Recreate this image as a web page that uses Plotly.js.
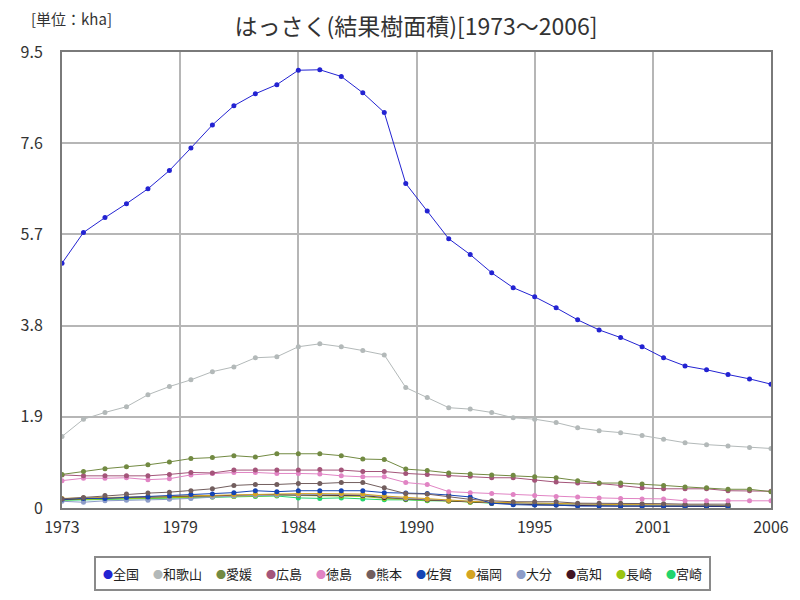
<!DOCTYPE html>
<html>
<head>
<meta charset="utf-8">
<script src="https://cdn.plot.ly/plotly-3.0.1.min.js"></script>
<style>html,body{margin:0;padding:0;background:#fff;}#chart{width:800px;height:600px;}</style>
</head>
<body>
<div id="chart"></div>
<script>
const years = [1973,1974,1975,1976,1977,1978,1979,1980,1981,1982,1983,1984,1985,1986,1987,1988,1989,1990,1991,1992,1993,1994,1995,1996,1997,1998,1999,2000,2001,2002,2003,2004,2005,2006];

const seriesNames = ['全国','和歌山','愛媛','広島','徳島','熊本','佐賀','福岡','大分','高知','長崎','宮崎'];

const zenkoku   = [5.10,5.74,6.05,6.34,6.65,7.03,7.50,7.98,8.38,8.63,8.82,9.12,9.13,8.99,8.65,8.24,6.76,6.19,5.61,5.28,4.90,4.59,4.40,4.17,3.92,3.71,3.55,3.36,3.13,2.96,2.88,2.78,2.69,2.58];
const wakayama  = [1.49,1.85,1.99,2.11,2.36,2.53,2.67,2.84,2.94,3.13,3.15,3.36,3.42,3.36,3.28,3.19,2.51,2.30,2.09,2.06,1.99,1.88,1.85,1.78,1.67,1.61,1.57,1.51,1.43,1.36,1.32,1.29,1.26,1.24];
const ehime     = [0.70,0.76,0.82,0.86,0.90,0.96,1.03,1.05,1.09,1.06,1.13,1.13,1.13,1.09,1.02,1.01,0.81,0.78,0.73,0.71,0.69,0.68,0.65,0.63,0.57,0.52,0.52,0.50,0.47,0.44,0.42,0.39,0.39,0.34];
const hiroshima = [0.69,0.67,0.67,0.67,0.67,0.70,0.74,0.73,0.79,0.79,0.79,0.79,0.80,0.79,0.76,0.76,0.72,0.70,0.68,0.66,0.63,0.63,0.58,0.54,0.52,0.51,0.47,0.42,0.40,0.40,0.40,0.36,0.36,0.35];
const tokushima = [0.57,0.62,0.62,0.63,0.59,0.61,0.69,0.72,0.74,0.74,0.72,0.72,0.71,0.67,0.65,0.65,0.53,0.49,0.34,0.32,0.30,0.28,0.26,0.24,0.23,0.21,0.20,0.19,0.19,0.15,0.15,0.15,0.15,0.15];
const kumamoto  = [0.19,0.22,0.26,0.29,0.31,0.33,0.36,0.40,0.47,0.49,0.49,0.51,0.51,0.53,0.53,0.42,0.30,0.29,0.24,0.18,0.15,0.13,0.13,0.13,0.10,0.10,0.10,0.09,0.09,0.08,0.08,0.08,null,null];
const saga      = [0.18,0.20,0.20,0.22,0.23,0.25,0.28,0.29,0.32,0.36,0.34,0.36,0.36,0.36,0.36,0.32,0.31,0.30,0.27,0.23,0.10,0.07,0.06,0.06,0.04,0.04,0.04,0.04,0.04,0.04,0.04,0.04,null,null];
const fukuoka   = [0.20,0.21,0.22,0.23,0.24,0.25,0.26,0.27,0.28,0.29,0.30,0.30,0.30,0.30,0.29,0.25,0.22,0.19,0.16,0.14,0.12,0.11,0.10,0.09,0.08,0.08,0.07,0.07,0.06,0.06,0.06,0.05,null,null];
const oita      = [0.14,0.12,0.15,0.16,0.16,0.18,0.20,0.23,0.25,0.26,0.27,0.27,0.28,0.28,0.27,0.24,0.20,0.18,0.16,0.14,0.11,0.10,0.09,0.08,0.07,0.07,0.06,0.06,0.06,0.05,0.05,0.05,null,null];
const kochi     = [0.18,0.20,0.21,0.22,0.23,0.24,0.25,0.26,0.27,0.27,0.28,0.27,0.27,0.27,0.26,0.22,0.19,0.17,0.15,0.13,0.10,0.08,0.07,0.06,0.05,0.05,0.04,0.04,0.04,0.03,0.03,0.03,null,null];
const nagasaki  = [0.17,0.18,0.19,0.19,0.20,0.21,0.22,0.23,0.24,0.25,0.26,0.26,0.26,0.25,0.24,0.20,0.18,0.16,0.14,0.12,0.10,0.09,0.08,0.07,0.06,0.06,0.05,0.05,0.05,0.04,0.04,0.04,null,null];
const miyazaki  = [0.16,0.17,0.18,0.18,0.19,0.20,0.21,0.23,0.24,0.24,0.25,0.21,0.20,0.21,0.19,0.17,0.17,0.15,0.15,0.12,0.10,0.10,0.09,0.08,0.07,0.06,0.05,0.05,0.05,0.04,0.04,0.04,null,null];

const seriesValues = [zenkoku,wakayama,ehime,hiroshima,tokushima,kumamoto,saga,fukuoka,oita,kochi,nagasaki,miyazaki];
const seriesColors = ['#2323d2','#b3b9b9','#728a42','#a4557a','#e184c4','#725e5e','#1444b4','#d4a422','#8c9cc8','#421424','#9ac412','#22d46e'];

const xTickVals = [1973,1978.5,1984,1989.5,1995,2000.5,2006];
const xTickText = ['1973','1979','1984','1990','1995','2001','2006'];
const yTickVals = [0,1.9,3.8,5.7,7.6,9.5];
const yTickText = ['0','1.9','3.8','5.7','7.6','9.5'];

const FONT = '"Noto Sans CJK JP", "Noto Sans", sans-serif';

const traces = [];
for (let i = seriesNames.length - 1; i >= 0; i--) {
  traces.push({
    type: 'scatter', mode: 'lines+markers',
    name: seriesNames[i], x: years, y: seriesValues[i],
    line: {color: seriesColors[i], width: 1},
    marker: {color: seriesColors[i], size: 5},
    showlegend: false, connectgaps: false
  });
}

// plot area pixel geometry (for legend box placement)
const L = 62, R = 29, T = 52, B = 92, W = 800 - L - R, H = 600 - T - B;
const px2x = p => (p - L) / W;
const py2y = p => (600 - B - p) / H;

const annotations = [{
  text: '[単位：kha]', xref: 'paper', yref: 'paper',
  x: px2x(29), y: py2y(18), xanchor: 'left', yanchor: 'middle',
  showarrow: false, font: {family: FONT, size: 15, color: '#333'}
}];
let cx = 101;
seriesNames.forEach((n, i) => {
  annotations.push({
    text: '<span style="color:' + seriesColors[i] + ';font-size:10px">●</span>' + n,
    xref: 'paper', yref: 'paper', x: px2x(cx), y: py2y(573),
    xanchor: 'left', yanchor: 'middle', showarrow: false,
    font: {family: FONT, size: 13, color: '#222'}
  });
  cx += 24 + 13 * n.length;
});

const layout = {
  width: 800, height: 600,
  margin: {l: L, r: R, t: T, b: B},
  paper_bgcolor: '#fff', plot_bgcolor: '#fff',
  title: {text: 'はっさく(結果樹面積)[1973～2006]', x: 0.52, xanchor: 'center',
          y: 1 - 27/600, yanchor: 'middle', yref: 'container',
          font: {family: FONT, size: 23, color: '#333'}},
  showlegend: false,
  xaxis: {range: [1973, 2006], tickvals: xTickVals, ticktext: xTickText,
          showgrid: true, gridcolor: '#b6b6b6', gridwidth: 2,
          showline: true, linecolor: '#7a7a7a', linewidth: 2, mirror: true,
          ticks: 'outside', ticklen: 4, tickcolor: 'rgba(0,0,0,0)', zeroline: false,
          tickfont: {family: FONT, size: 16, color: '#333'}},
  yaxis: {range: [0, 9.5], tickvals: yTickVals, ticktext: yTickText,
          showgrid: true, gridcolor: '#b6b6b6', gridwidth: 2,
          showline: true, linecolor: '#7a7a7a', linewidth: 2, mirror: true,
          ticks: 'outside', ticklen: 14, tickcolor: 'rgba(0,0,0,0)', zeroline: false,
          tickfont: {family: FONT, size: 16, color: '#333'}},
  shapes: [{type: 'rect', xref: 'paper', yref: 'paper',
            x0: px2x(95), x1: px2x(710), y0: py2y(557), y1: py2y(590),
            line: {color: '#8a8a8a', width: 2}, fillcolor: 'rgba(0,0,0,0)'}],
  annotations: annotations
};

Plotly.newPlot('chart', traces, layout, {displayModeBar: false, staticPlot: true});
</script>
</body>
</html>
